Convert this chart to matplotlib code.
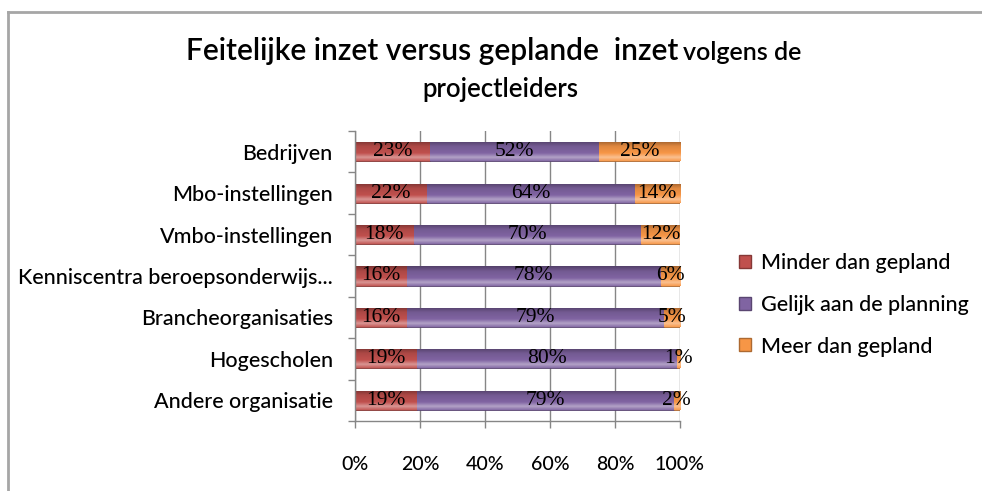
"""Feitelijke inzet versus geplande inzet - stacked horizontal bar chart"""
import numpy as np
import matplotlib
matplotlib.use('Agg')
import matplotlib.pyplot as plt
from matplotlib.colors import LinearSegmentedColormap, to_rgb
from matplotlib.lines import Line2D
from matplotlib.patches import Patch

categories = ['Bedrijven', 'Mbo-instellingen', 'Vmbo-instellingen',
              'Kenniscentra beroepsonderwijs...', 'Brancheorganisaties',
              'Hogescholen', 'Andere organisatie']
minder = [23, 22, 18, 16, 16, 19, 19]
gelijk = [52, 64, 70, 78, 79, 80, 79]
meer = [25, 14, 12, 6, 5, 1, 2]

series_names = ['Minder dan gepland', 'Gelijk aan de planning', 'Meer dan gepland']
series_colors = ['#C0504D', '#8064A2', '#F79646']

SANS = ['Lato', 'DejaVu Sans']
SERIF = ['Liberation Serif', 'DejaVu Serif']
W = 'medium'


def shade(color, f):
    r, g, b = to_rgb(color)
    if f > 0:
        return (r + (1 - r) * f, g + (1 - g) * f, b + (1 - b) * f)
    return (r * (1 + f), g * (1 + f), b * (1 + f))


def bevel_cmap(color):
    # bottom -> top : dark edge, base, light highlight, base
    stops = [(0.0, shade(color, -0.35)), (0.25, shade(color, -0.1)),
             (0.6, shade(color, 0.0)), (0.82, shade(color, 0.4)),
             (1.0, shade(color, 0.05))]
    return LinearSegmentedColormap.from_list('bev', stops)


def plot():
    fig = plt.figure(figsize=(9.82, 4.91), dpi=100)
    ax = fig.add_axes([355 / 982, 1 - 421 / 491, 325 / 982, 290 / 491])

    y = np.arange(len(categories))
    values = [np.array(minder), np.array(gelijk), np.array(meer)]
    left = np.zeros(len(categories))
    grad = np.linspace(0, 1, 64).reshape(-1, 1)
    bar_h = 0.46

    for vals, name, col in zip(values, series_names, series_colors):
        bars = ax.barh(y, vals, left=left, height=bar_h, color=col,
                       edgecolor=shade(col, -0.3), linewidth=0.6, zorder=2)
        cmap = bevel_cmap(col)
        for patch in bars:
            x0, y0 = patch.get_x(), patch.get_y()
            w, h = patch.get_width(), patch.get_height()
            if w <= 0:
                continue
            im = ax.imshow(grad, extent=[x0, x0 + w, y0 + h, y0], origin='upper',
                           aspect='auto', cmap=cmap, zorder=2.5)
            im.set_clip_path(patch)
        for yi, l, v in zip(y, left, vals):
            ax.text(l + v / 2, yi, f'{v}%', ha='center', va='center',
                    fontsize=15.5, family=SERIF, color='black', zorder=4)
        left = left + vals

    ax.set_xlim(0, 100)
    ax.set_ylim(len(categories) - 0.5, -0.5)
    ax.set_xticks(range(0, 101, 20))
    ax.set_xticklabels([f'{v}%' for v in range(0, 101, 20)], family=SANS,
                       fontsize=14, fontweight=W)
    ax.set_yticks(y)
    ax.set_yticklabels(categories, family=SANS, fontsize=15.5, fontweight=W)
    ax.tick_params(axis='y', length=0, pad=16)
    ax.set_yticks(np.arange(-0.5, len(categories)), minor=True)
    ax.tick_params(axis='y', which='minor', length=5, color='#868686', width=1)
    ax.tick_params(axis='x', length=5, color='#868686', width=1, pad=20)
    ax.grid(axis='x', color='#868686', linewidth=1, zorder=0)
    ax.set_axisbelow(True)
    for s in ['top', 'right']:
        ax.spines[s].set_visible(False)
    for s in ['left', 'bottom']:
        ax.spines[s].set_color('#868686')
        ax.spines[s].set_linewidth(1)

    # title, two sizes on the first line
    fig.text(678 / 982, 1 - 60 / 491, 'Feitelijke inzet versus geplande  inzet',
             ha='right', va='baseline', fontsize=21.5, family=SANS,
             fontweight='semibold', color='black')
    fig.text(683 / 982, 1 - 60 / 491, 'volgens de', ha='left', va='baseline',
             fontsize=18, family=SANS, fontweight='semibold', color='black')
    fig.text(500 / 982, 1 - 97 / 491, 'projectleiders', ha='center', va='baseline',
             fontsize=18.5, family=SANS, fontweight='semibold', color='black')

    handles = [Patch(facecolor=c, edgecolor=shade(c, -0.3)) for c in series_colors]
    fig.legend(handles, series_names, loc='center left',
               bbox_to_anchor=(720 / 982, 1 - 305 / 491), frameon=False,
               prop={'family': SANS, 'size': 15.5, 'weight': W}, handlelength=0.55,
               handleheight=0.55, handletextpad=0.45, labelspacing=1.0)

    # chart frame (only left and top edges visible)
    fig.add_artist(Line2D([8 / 982, 8 / 982], [0, 1 - 12 / 491], color='#A6A6A6',
                          linewidth=2, transform=fig.transFigure))
    fig.add_artist(Line2D([8 / 982, 1], [1 - 12 / 491, 1 - 12 / 491], color='#A6A6A6',
                          linewidth=2, transform=fig.transFigure))

    fig.savefig('out.png', dpi=100)


if __name__ == '__main__':
    plot()
